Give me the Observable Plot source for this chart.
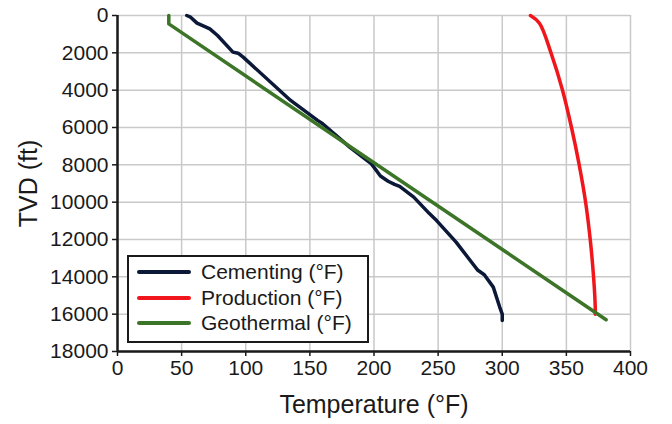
<!DOCTYPE html>
<html>
<head>
<meta charset="utf-8">
<script src="https://cdn.jsdelivr.net/npm/d3@7"></script>
<script src="https://cdn.jsdelivr.net/npm/@observablehq/plot@0.6"></script>
<style>
  html, body { margin: 0; padding: 0; background: #fff; }
  #wrap { position: relative; width: 672px; height: 424px; font-family: "Liberation Sans", Arial, sans-serif; color: #1a1a1a; }
  #legend { position: absolute; left: 127px; top: 255px; width: 238px; height: 82px; border: 2px solid #1a1a1a; background: #fff; padding: 2px 0 0 0; }
  .row { display: flex; align-items: center; height: 25.8px; }
  .sw { width: 54px; height: 4px; margin-left: 8px; margin-right: 10px; border-radius: 2px; }
  .lab { font-size: 21px; white-space: nowrap; }
</style>
</head>
<body>
<div id="wrap"></div>
<script>
// Series: temperature (°F) vs true vertical depth (ft)
const cementingTemp  = [54, 57, 62, 69, 72, 78, 90, 94, 98, 135, 156, 160, 181, 198, 205, 211, 216, 220, 231, 243, 249, 264, 277, 281, 286, 293, 298, 300, 300];
const cementingDepth = [0, 90, 410, 620, 720, 1070, 1960, 2020, 2230, 4550, 5620, 5800, 7050, 7950, 8600, 8880, 9050, 9150, 9730, 10600, 11000, 12140, 13300, 13650, 13890, 14550, 15620, 16000, 16340];

const productionTemp  = [322, 329, 338, 347, 354, 360, 365, 368.6, 371.2, 372.5, 372.5];
const productionDepth = [0, 410, 2000, 4000, 6000, 8000, 10000, 12000, 14000, 15600, 16000];

const geothermalTemp  = [40, 40, 381];
const geothermalDepth = [0, 450, 16300];

const seriesNames  = ["Cementing (°F)", "Production (°F)", "Geothermal (°F)"];
const seriesColors = ["#0b1838", "#f0161c", "#3c7528"];

const xTicks = [0, 50, 100, 150, 200, 250, 300, 350, 400];
const yTicks = [0, 2000, 4000, 6000, 8000, 10000, 12000, 14000, 16000, 18000];

const xLabel = "Temperature (°F)";
const yLabel = "TVD (ft)";

function rows(temps, depths, name) {
  return temps.map((t, i) => ({temp: t, depth: depths[i], series: name}));
}
const cementing  = rows(cementingTemp, cementingDepth, seriesNames[0]);
const production = rows(productionTemp, productionDepth, seriesNames[1]);
const geothermal = rows(geothermalTemp, geothermalDepth, seriesNames[2]);

const chart = Plot.plot({
  width: 672,
  height: 424,
  marginLeft: 117,
  marginRight: 42,
  marginTop: 15,
  marginBottom: 73,
  style: {fontFamily: "'Liberation Sans', Arial, sans-serif", fontSize: "21px", color: "#1a1a1a", background: "transparent", overflow: "visible"},
  x: {domain: [0, 400]},
  y: {domain: [0, 18000], reverse: true},
  marks: [
    Plot.gridX(xTicks, {stroke: "#c9c9c9", strokeOpacity: 1, strokeWidth: 1.5}),
    Plot.gridY(yTicks, {stroke: "#c9c9c9", strokeOpacity: 1, strokeWidth: 1.5}),
    Plot.axisX(xTicks, {tickSize: 5, tickPadding: 4, tickFormat: d => String(d), label: null, stroke: "#1a1a1a", strokeWidth: 1.5, fontSize: 21}),
    Plot.axisY(yTicks, {tickSize: 5, tickPadding: 4, tickFormat: d => String(d), label: null, stroke: "#1a1a1a", strokeWidth: 1.5, fontSize: 21}),
    Plot.ruleX([0], {stroke: "#1a1a1a", strokeWidth: 2.5}),
    Plot.ruleY([18000], {stroke: "#1a1a1a", strokeWidth: 2.5}),
    Plot.line(cementing,  {x: "temp", y: "depth", stroke: seriesColors[0], strokeWidth: 3.5}),
    Plot.line(production, {x: "temp", y: "depth", stroke: seriesColors[1], strokeWidth: 3.5, curve: "catmull-rom"}),
    Plot.line(geothermal, {x: "temp", y: "depth", stroke: seriesColors[2], strokeWidth: 3.5}),
    Plot.text([xLabel], {frameAnchor: "bottom", dy: 61, fontSize: 25, textAnchor: "middle", fill: "#1a1a1a"}),
    Plot.text([yLabel], {frameAnchor: "left", dx: -89, rotate: -90, fontSize: 25, textAnchor: "middle", fill: "#1a1a1a"})
  ]
});

const wrap = document.getElementById("wrap");
wrap.appendChild(chart);

const legend = document.createElement("div");
legend.id = "legend";
seriesNames.forEach((name, i) => {
  const row = document.createElement("div");
  row.className = "row";
  const sw = document.createElement("div");
  sw.className = "sw";
  sw.style.background = seriesColors[i];
  const lab = document.createElement("span");
  lab.className = "lab";
  lab.textContent = name;
  row.appendChild(sw);
  row.appendChild(lab);
  legend.appendChild(row);
});
wrap.appendChild(legend);
</script>
</body>
</html>
